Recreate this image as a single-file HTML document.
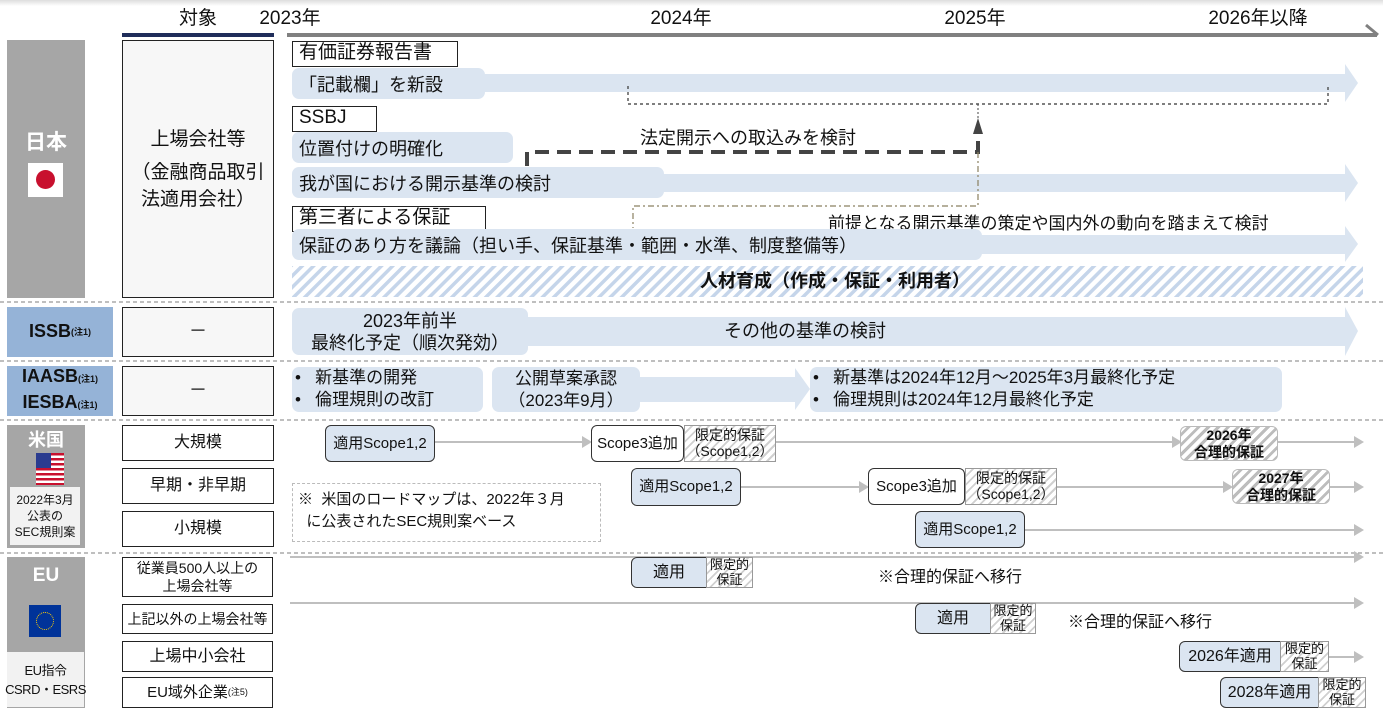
<!DOCTYPE html>
<html><head><meta charset="utf-8"><style>
*{margin:0;padding:0;box-sizing:border-box}
body{width:1383px;height:713px;position:relative;background:#fff;overflow:hidden;font-family:"Liberation Sans","Noto Sans CJK JP",sans-serif;color:#111}
.a{position:absolute}
.c{display:flex;align-items:center;justify-content:center;text-align:center;line-height:1.2}
.tb{border:1.5px solid #222;background:#fff;font-size:19px;padding-left:6px;line-height:22px}
.band{background:#dbe5f1;border-radius:7px}
.lab{font-size:18px;padding-left:7px;display:flex;align-items:center}
.tgt{border:1.5px solid #222;background:#fff;font-size:18px}
.blue{background:#dbe5f1;border:1.5px solid #333;border-radius:6px;font-size:15px}
.wht{background:#fff;border:1.5px solid #333;border-radius:6px;font-size:15px}
.lim{border:1px solid #999;background:repeating-linear-gradient(135deg,#fff 0 4px,#d0d0d0 4px 6px);font-size:14px;line-height:1.1}
.hat{border:1px solid #bbb;border-radius:6px;background:repeating-linear-gradient(135deg,#fff 0 4px,#bdbdbd 4px 7px);font-size:14px;font-weight:bold;line-height:1.2}
.hdr{font-size:19px}
</style></head><body>
<div class="a" style="left:0;top:0;width:1383px;height:6px;background:linear-gradient(#ddd,#fff)"></div>
<svg class="a" style="left:0;top:0" width="1383" height="713">
<rect x="122" y="33" width="152" height="4" fill="#1f2d5a"/>
<rect x="287" y="33" width="1090" height="4" fill="#808080"/>
<line x1="1366" y1="25" x2="1378" y2="35" stroke="#808080" stroke-width="3"/>
<g fill="#dbe5f1">
<polygon points="480,74 1345,74 1345,64 1358,83 1345,102 1345,92 480,92"/>
<polygon points="660,174 1345,174 1345,164 1358,183 1345,202 1345,192 660,192"/>
<polygon points="975,235 1345,235 1345,226 1358,244 1345,262 1345,254 975,254"/>
<polygon points="520,317 1345,317 1345,307 1358,331 1345,356 1345,346 520,346"/>
<polygon points="630,377 795,377 795,368 810,389 795,410 795,402 630,402"/>
</g>
<defs><pattern id="bh" width="8" height="8" patternUnits="userSpaceOnUse" patternTransform="rotate(45)"><rect width="8" height="8" fill="#fff"/><rect width="3.5" height="8" fill="#c5d5ea"/></pattern></defs>
<rect x="292" y="266" width="1071" height="31" fill="url(#bh)"/>
<path d="M628,86 V104 H1328 V86" fill="none" stroke="#333" stroke-width="1.2" stroke-dasharray="3,3"/>
<path d="M527,166 V152 H978 V128" fill="none" stroke="#444" stroke-width="4" stroke-dasharray="14,8"/>
<polygon points="973,134 983,134 978,118" fill="#444"/>
<line x1="978" y1="104" x2="978" y2="118" stroke="#444" stroke-width="1" stroke-dasharray="2,2"/>
<path d="M978,152 V206 H633 V228" fill="none" stroke="#8a8060" stroke-width="1.2" stroke-dasharray="6,3,2,3"/>
<g stroke="#999" stroke-width="1.3" stroke-dasharray="4,3">
<line x1="0" y1="302" x2="1383" y2="302"/><line x1="0" y1="361" x2="1383" y2="361"/>
<line x1="0" y1="420" x2="1383" y2="420"/><line x1="0" y1="553" x2="1383" y2="553"/>
</g>
<g stroke="#bfbfbf" stroke-width="2">
<line x1="435" y1="442" x2="585" y2="442"/><line x1="776" y1="442" x2="1175" y2="442"/><line x1="1278" y1="442" x2="1355" y2="442"/>
<line x1="741" y1="487" x2="862" y2="487"/><line x1="1057" y1="487" x2="1226" y2="487"/><line x1="1330" y1="487" x2="1355" y2="487"/>
<line x1="1025" y1="530" x2="1355" y2="530"/>
<line x1="290" y1="557" x2="1355" y2="557"/><line x1="290" y1="603" x2="1355" y2="603"/>
<line x1="1329" y1="657" x2="1355" y2="657"/>
</g>
<g fill="#bfbfbf">
<polygon points="582,436 592,442 582,448"/><polygon points="1172,436 1182,442 1172,448"/><polygon points="1354,436 1364,442 1354,448"/>
<polygon points="859,481 869,487 859,493"/><polygon points="1223,481 1233,487 1223,493"/><polygon points="1354,481 1364,487 1354,493"/>
<polygon points="1354,524 1364,530 1354,536"/>
<polygon points="1354,551 1364,557 1354,563"/><polygon points="1354,597 1364,603 1354,609"/>
<polygon points="1354,651 1364,657 1354,663"/>
</g>
</svg>
<div class="a hdr c" style="left:122px;top:6px;width:152px;height:26px">対象</div>
<div class="a hdr c" style="left:240px;top:6px;width:100px;height:26px">2023年</div>
<div class="a hdr c" style="left:631px;top:6px;width:100px;height:26px">2024年</div>
<div class="a hdr c" style="left:925px;top:6px;width:100px;height:26px">2025年</div>
<div class="a hdr c" style="left:1188px;top:6px;width:140px;height:26px">2026年以降</div>
<div class="a" style="left:7px;top:40px;width:78px;height:258px;background:#a6a6a6"></div>
<div class="a c" style="left:7px;top:128px;width:78px;height:30px;color:#fff;font-weight:bold;font-size:21px">日本</div>
<div class="a" style="left:28px;top:163px;width:35px;height:34px;background:#fff"><div class="a" style="left:8px;top:7px;width:19px;height:19px;border-radius:50%;background:#c8102e"></div></div>
<div class="a tgt c" style="left:122px;top:40px;width:152px;height:258px;background:#f7f7f7;flex-direction:column;font-size:19px;line-height:27px"><div>上場会社等</div><div style="margin-top:6px">（金融商品取引</div><div>法適用会社）</div></div>
<div class="a tb" style="left:292px;top:41px;width:166px;height:26px">有価証券報告書</div>
<div class="a band lab" style="left:292px;top:68px;width:193px;height:31px">「記載欄」を新設</div>
<div class="a tb" style="left:292px;top:106px;width:85px;height:26px">SSBJ</div>
<div class="a band lab" style="left:292px;top:132px;width:221px;height:31px">位置付けの明確化</div>
<div class="a" style="left:640px;top:124px;font-size:18px">法定開示への取込みを検討</div>
<div class="a band lab" style="left:292px;top:167px;width:372px;height:31px">我が国における開示基準の検討</div>
<div class="a tb" style="left:292px;top:206px;width:194px;height:26px">第三者による保証</div>
<div class="a" style="left:828px;top:209px;font-size:17px">前提となる開示基準の策定や国内外の動向を踏まえて検討</div>
<div class="a band lab" style="left:292px;top:229px;width:690px;height:31px">保証のあり方を議論（担い手、保証基準・範囲・水準、制度整備等）</div>
<div class="a c" style="left:600px;top:268px;width:470px;height:28px;font-weight:bold;font-size:18px">人材育成（作成・保証・利用者）</div>
<div class="a c" style="left:7px;top:307px;width:106px;height:50px;background:#95b3d7;font-weight:bold;font-size:18px">ISSB<span style="font-size:9px">(注1)</span></div>
<div class="a tgt c" style="left:122px;top:307px;width:152px;height:50px;background:#f7f7f7">－</div>
<div class="a band c" style="left:292px;top:308px;width:236px;height:47px;font-size:18px;line-height:22px">2023年前半<br>最終化予定（順次発効）</div>
<div class="a c" style="left:680px;top:320px;width:250px;height:24px;font-size:18px">その他の基準の検討</div>
<div class="a c" style="left:7px;top:366px;width:106px;height:50px;background:#95b3d7;font-weight:bold;font-size:18px;line-height:23px;flex-direction:column"><div>IAASB<span style="font-size:9px">(注1)</span></div><div>IESBA<span style="font-size:9px">(注1)</span></div></div>
<div class="a tgt c" style="left:122px;top:366px;width:152px;height:50px;background:#f7f7f7">－</div>
<div class="a band" style="left:292px;top:367px;width:191px;height:45px;font-size:17px;line-height:22px;padding-left:3px">•&nbsp;&nbsp; 新基準の開発<br>•&nbsp;&nbsp; 倫理規則の改訂</div>
<div class="a band c" style="left:492px;top:367px;width:148px;height:45px;font-size:17px;line-height:22px">公開草案承認<br>（2023年9月）</div>
<div class="a band" style="left:810px;top:367px;width:472px;height:45px;font-size:17px;line-height:22px;padding-left:3px">•&nbsp;&nbsp; 新基準は2024年12月～2025年3月最終化予定<br>•&nbsp;&nbsp; 倫理規則は2024年12月最終化予定</div>
<div class="a" style="left:7px;top:425px;width:78px;height:123px;background:#a6a6a6"></div>
<div class="a c" style="left:7px;top:429px;width:78px;height:24px;color:#fff;font-weight:bold;font-size:18px">米国</div>
<div class="a" style="left:36px;top:453px;width:28px;height:32px;background:repeating-linear-gradient(#c8102e 0 2.5px,#fff 2.5px 5px)"><div class="a" style="left:0;top:0;width:15px;height:15px;background:#2a3b8f"></div></div>
<div class="a c" style="left:10px;top:487px;width:70px;height:58px;background:#f2f2f2;font-size:12px;line-height:16px">2022年3月<br>公表の<br>SEC規則案</div>
<div class="a tgt c" style="left:122px;top:425px;width:152px;height:36px;font-size:16px">大規模</div>
<div class="a tgt c" style="left:122px;top:468px;width:152px;height:36px;font-size:16px">早期・非早期</div>
<div class="a tgt c" style="left:122px;top:511px;width:152px;height:36px;font-size:16px">小規模</div>
<div class="a blue c" style="left:325px;top:425px;width:110px;height:37px">適用Scope1,2</div>
<div class="a wht c" style="left:591px;top:425px;width:93px;height:37px">Scope3追加</div>
<div class="a lim c" style="left:684px;top:425px;width:92px;height:37px">限定的保証<br>（Scope1,2）</div>
<div class="a hat c" style="left:1180px;top:426px;width:98px;height:35px">2026年<br>合理的保証</div>
<div class="a blue c" style="left:631px;top:468px;width:110px;height:38px">適用Scope1,2</div>
<div class="a wht c" style="left:868px;top:468px;width:97px;height:37px">Scope3追加</div>
<div class="a lim c" style="left:965px;top:468px;width:92px;height:37px">限定的保証<br>（Scope1,2）</div>
<div class="a hat c" style="left:1232px;top:469px;width:98px;height:35px">2027年<br>合理的保証</div>
<div class="a blue c" style="left:915px;top:511px;width:110px;height:37px">適用Scope1,2</div>
<div class="a" style="left:292px;top:483px;width:309px;height:59px;border:1px dashed #bbb;font-size:15px;line-height:22px;padding:5px 0 0 5px">※&nbsp; 米国のロードマップは、2022年３月<br>&nbsp;&nbsp;に公表されたSEC規則案ベース</div>
<div class="a" style="left:7px;top:557px;width:78px;height:151px;background:#a6a6a6"></div>
<div class="a c" style="left:7px;top:563px;width:78px;height:26px;color:#fff;font-weight:bold;font-size:19px">EU</div>
<div class="a" style="left:29px;top:605px;width:32px;height:32px;background:#003399"></div>
<div class="a" style="left:36px;top:612px;width:18px;height:18px;border-radius:50%;border:1.5px dotted #fc0"></div>
<div class="a c" style="left:7px;top:652px;width:77px;height:55px;background:#f2f2f2;font-size:13px;line-height:19px;white-space:nowrap;letter-spacing:-0.5px">EU指令<br>CSRD・ESRS</div>
<div class="a tgt c" style="left:122px;top:557px;width:151px;height:40px;font-size:14px;line-height:18px">従業員500人以上の<br>上場会社等</div>
<div class="a tgt c" style="left:122px;top:604px;width:151px;height:30px;font-size:14px">上記以外の上場会社等</div>
<div class="a tgt c" style="left:122px;top:641px;width:151px;height:31px;font-size:16px">上場中小会社</div>
<div class="a tgt c" style="left:122px;top:677px;width:151px;height:31px;font-size:15px">EU域外企業<span style="font-size:9px">(注5)</span></div>
<div class="a blue c" style="left:631px;top:557px;width:76px;height:31px;font-size:16px;border-radius:6px 0 0 6px">適用</div>
<div class="a lim c" style="left:706px;top:557px;width:47px;height:31px;font-size:13px">限定的<br>保証</div>
<div class="a" style="left:878px;top:563px;font-size:16px">※合理的保証へ移行</div>
<div class="a blue c" style="left:915px;top:603px;width:76px;height:31px;font-size:16px;border-radius:6px 0 0 6px">適用</div>
<div class="a lim c" style="left:990px;top:603px;width:46px;height:31px;font-size:13px">限定的<br>保証</div>
<div class="a" style="left:1068px;top:608px;font-size:16px">※合理的保証へ移行</div>
<div class="a blue c" style="left:1179px;top:641px;width:102px;height:31px;font-size:16px;border-radius:6px 0 0 6px">2026年適用</div>
<div class="a lim c" style="left:1280px;top:641px;width:49px;height:31px;font-size:13px">限定的<br>保証</div>
<div class="a blue c" style="left:1220px;top:677px;width:99px;height:31px;font-size:16px;border-radius:6px 0 0 6px">2028年適用</div>
<div class="a lim c" style="left:1318px;top:677px;width:48px;height:31px;font-size:13px">限定的<br>保証</div>
</body></html>
